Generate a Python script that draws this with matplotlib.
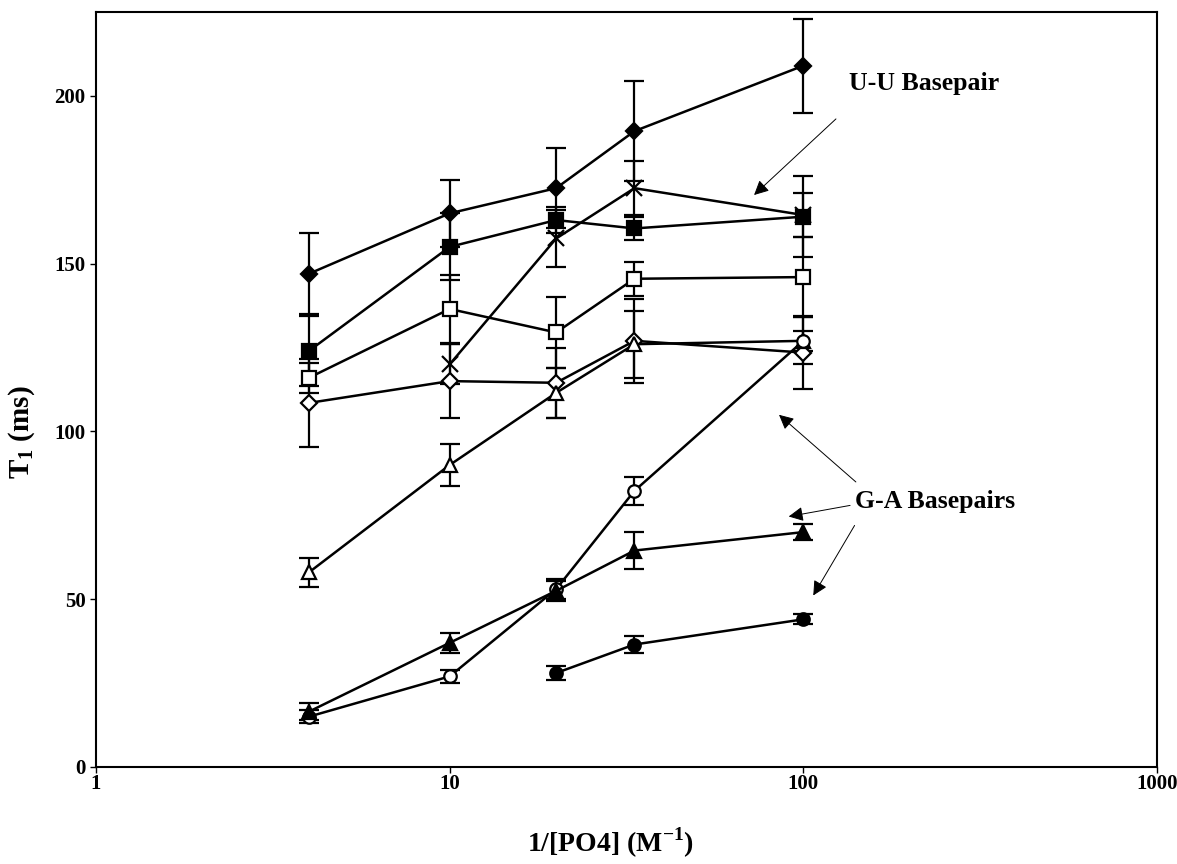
import numpy as np
import matplotlib.pyplot as plt

plt.rcParams['font.family'] = ['Liberation Serif', 'DejaVu Serif']
plt.rcParams['font.weight'] = 'bold'
plt.rcParams['mathtext.fontset'] = 'custom'
plt.rcParams['mathtext.rm'] = 'Liberation Serif:bold'
plt.rcParams['mathtext.bf'] = 'Liberation Serif:bold'

# inverse phosphate concentration (1/M)
x_all = [4, 10, 20, 33.3, 100]
x_from10 = [10, 20, 33.3, 100]
x_from20 = [20, 33.3, 100]

# T1 values (ms) and error bars
t_fdiamond = [147, 165, 172.5, 189.5, 209]
e_fdiamond = [12, 10, 12, 15, 14]
t_fsquare = [124, 155, 163, 160.5, 164]
e_fsquare = [10.5, 10, 4, 3.5, 12]
t_cross = [120, 157.5, 172.5, 164.5]
e_cross = [6, 8.5, 8, 6.5]
t_osquare = [116, 136.5, 129.5, 145.5, 146]
e_osquare = [4.5, 10, 10.5, 5, 12]
t_odiamond = [108.5, 115, 114.5, 127, 123.5]
e_odiamond = [13, 11, 10.5, 12.5, 11]
t_otriangle = [58, 90, 111.5, 126, 127]
e_otriangle = [4.3, 6.3, 7.4, 10, 3]
t_ocircle = [15, 27, 53, 82.3, 127]
e_ocircle = [2, 2, 3, 4.2, 7]
t_ftriangle = [16.5, 37, 52.5, 64.5, 70]
e_ftriangle = [2.5, 3, 3, 5.5, 2.5]
t_fcircle = [28, 36.5, 44]
e_fcircle = [2, 2.5, 1.5]

series = [
    (x_all, t_fdiamond, e_fdiamond, 'D', 'k', 8),
    (x_all, t_fsquare, e_fsquare, 's', 'k', 10),
    (x_from10, t_cross, e_cross, 'x', 'k', 12),
    (x_all, t_osquare, e_osquare, 's', 'w', 10),
    (x_all, t_odiamond, e_odiamond, 'D', 'w', 8),
    (x_all, t_otriangle, e_otriangle, '^', 'w', 10),
    (x_all, t_ocircle, e_ocircle, 'o', 'w', 9),
    (x_all, t_ftriangle, e_ftriangle, '^', 'k', 10),
    (x_from20, t_fcircle, e_fcircle, 'o', 'k', 9),
]

fig = plt.figure(figsize=(11.77, 8.64), dpi=100)
ax = fig.add_axes([0.0816, 0.1123, 0.9014, 0.8738])

for xs, ys, es, mk, fc, ms in series:
    ax.errorbar(xs, ys, yerr=es, color='k', lw=1.8, marker=mk, ms=ms,
                mfc=fc, mec='k', mew=1.6, capsize=7, capthick=1.6,
                elinewidth=1.6)

ax.set_xscale('log')
ax.set_xlim(1, 1000)
ax.set_ylim(0, 225)
ax.set_yticks([0, 50, 100, 150, 200])
ax.set_xticks([1, 10, 100, 1000])
ax.set_xticklabels(['1', '10', '100', '1000'])
ax.xaxis.set_minor_locator(plt.NullLocator())
ax.tick_params(axis='both', labelsize=15, length=4, width=1, direction='out')
ax.tick_params(axis='x', pad=1)
for sp in ax.spines.values():
    sp.set_linewidth(1.5)

ax.set_xlabel('1/[PO4] (M$^{-1}$)', fontsize=20, fontweight='bold')
ax.xaxis.set_label_coords(0.4845, -0.078)
ax.set_ylabel(r'T$_{1}$ (ms)', fontsize=21, fontweight='bold')
ax.yaxis.set_label_coords(-0.056, 0.444)

arrow = dict(arrowstyle='-|>', color='k', lw=0.7, mutation_scale=22)
ax.text(219, 203.6, 'U-U Basepair', fontsize=18.5, fontweight='bold',
        ha='center', va='center')
ax.annotate('', xy=(71.6, 169.9), xytext=(125.3, 193.7), arrowprops=arrow)

ax.text(235, 79, 'G-A Basepairs', fontsize=18.5, fontweight='bold',
        ha='center', va='center')
ax.annotate('', xy=(84.2, 105.5), xytext=(142.7, 84.4), arrowprops=arrow)
ax.annotate('', xy=(89.3, 74.5), xytext=(138, 78.1), arrowprops=arrow)
ax.annotate('', xy=(105.7, 50.4), xytext=(140.9, 72.7), arrowprops=arrow)

fig.savefig('out.png', dpi=100)
